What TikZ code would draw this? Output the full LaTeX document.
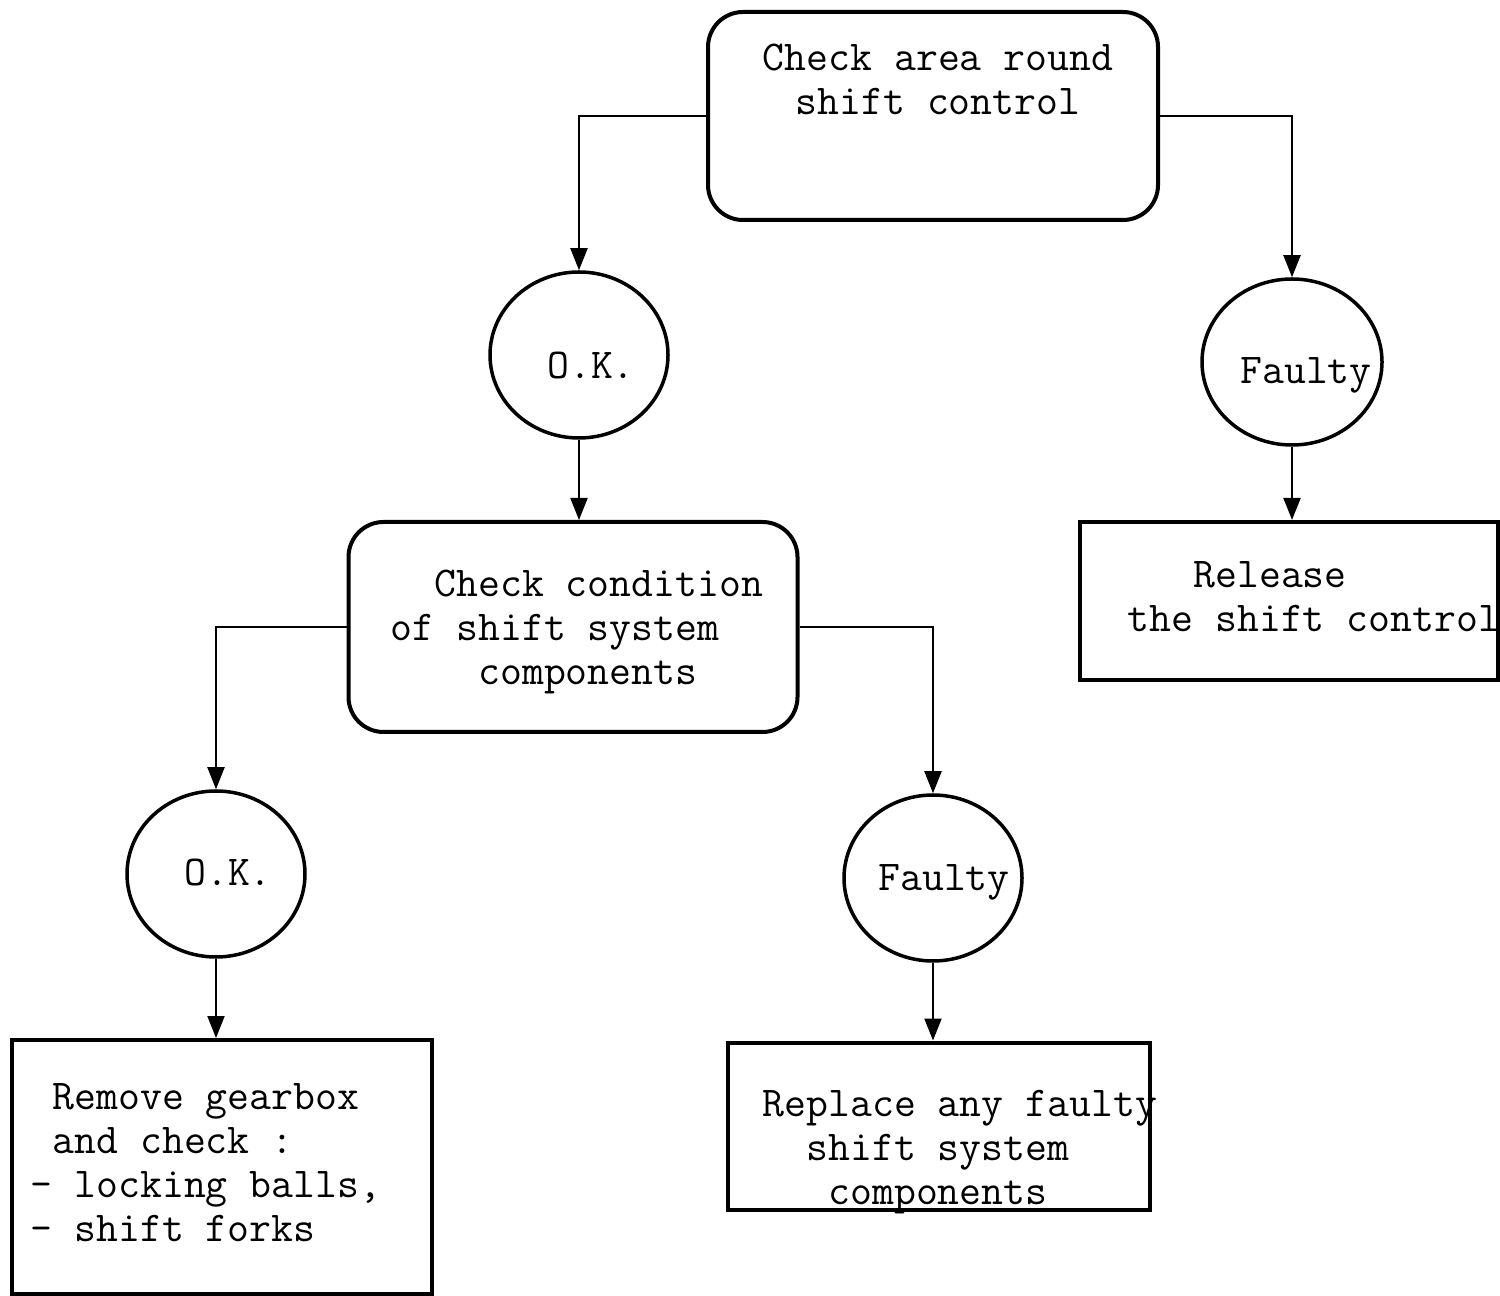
\documentclass[tikz,border=0pt]{standalone}
\usepackage{fontspec}
\usetikzlibrary{arrows.meta,shapes.geometric}

\begin{document}
\begin{tikzpicture}[x=0.1mm, y=-0.1mm,
    box/.style={draw, line width=0.4mm, inner sep=0pt},
    roundbox/.style={box, rounded corners=3.5mm},
    verdict/.style={draw, ellipse, line width=0.35mm, inner sep=0pt, minimum width=17.8mm, minimum height=16.6mm},
    txt/.style={font=\ttfamily\fontsize{12.1}{12.5}\selectfont, inner sep=0pt},
    link/.style={line width=0.2mm, -{Triangle[width=1.7mm, length=2.2mm]}}]
    \useasboundingbox (0,0) rectangle (1500,1296);

    \node[roundbox, minimum width=45mm, minimum height=20.8mm] (check1) at (933,116) {};
    \node[txt, align=center] (check1txt) at (938,79) {Check area round\\shift control};

    \node[verdict] (ok1) at (579,355) {};
    \node[txt] (ok1txt) at (591,366) {O.K.};
    \node[verdict, minimum width=18mm] (faulty1) at (1292,362) {};
    \node[txt] (faulty1txt) at (1306,375) {Faulty};

    \node[roundbox, minimum width=44.9mm, minimum height=21mm] (check2) at (573,627) {};
    \node[txt, align=left, anchor=west] (check2txt) at (390,632)
        {\phantom{xx}Check condition\\of shift system\\\phantom{xxxx}components};

    \node[box, minimum width=41.8mm, minimum height=15.8mm] (release) at (1289,601) {};
    \node[txt, align=left, anchor=west] (releasetxt) at (1127,597)
        {\phantom{xxx}Release\\the shift control};

    \node[verdict] (ok2) at (216,874) {};
    \node[txt] (ok2txt) at (228,873) {O.K.};
    \node[verdict] (faulty2) at (933,878) {};
    \node[txt] (faulty2txt) at (944,882) {Faulty};

    \node[box, minimum width=42mm, minimum height=25.4mm] (remove) at (222,1167) {};
    \node[txt, align=left, anchor=west] (removetxt) at (30,1163)
        {\phantom{x}Remove gearbox\\\phantom{x}and check :\\- locking balls,\\- shift forks};

    \node[box, minimum width=42.2mm, minimum height=16.7mm] (replace) at (939,1126) {};
    \node[txt, align=left, anchor=west] (replacetxt) at (762,1152)
        {Replace any faulty\\\phantom{xx}shift system\\\phantom{xxx}components};

    \draw[link] (check1.west) -| (ok1.north);
    \draw[link] (check1.east) -| (faulty1.north);
    \draw[link] (ok1.south) -- (ok1.south |- check2.north);
    \draw[link] (faulty1.south) -- (faulty1.south |- release.north);
    \draw[link] (check2.west) -| (ok2.north);
    \draw[link] (check2.east) -| (faulty2.north);
    \draw[link] (ok2.south) -- (ok2.south |- remove.north);
    \draw[link] (faulty2.south) -- (faulty2.south |- replace.north);
\end{tikzpicture}
\end{document}
